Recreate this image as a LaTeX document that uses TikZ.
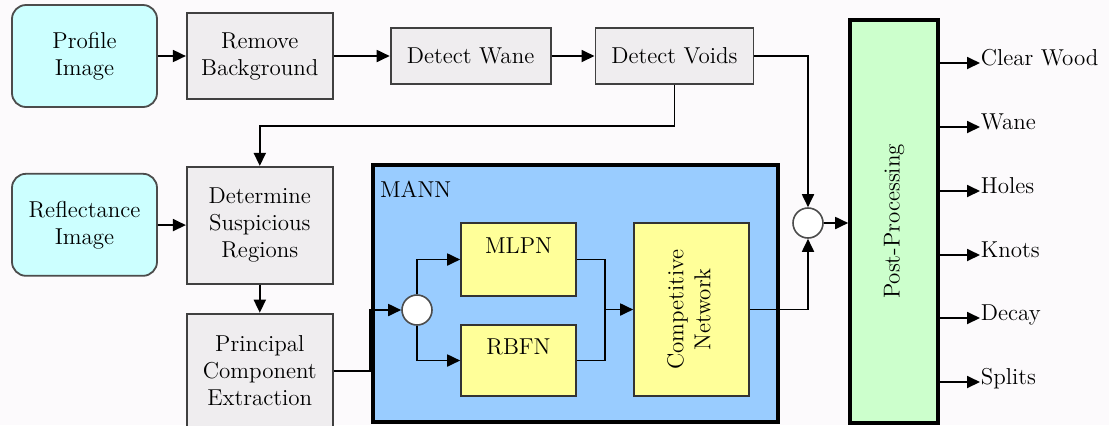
\documentclass[tikz,border=0pt]{standalone}
\usepackage{graphicx}
\usetikzlibrary{arrows.meta,positioning}
\definecolor{imgcyan}{HTML}{CCFFFF}
\definecolor{stepgray}{HTML}{EFEDEF}
\definecolor{mannblue}{HTML}{99CCFF}
\definecolor{netyellow}{HTML}{FFFF99}
\definecolor{postgreen}{HTML}{CCFFCC}
\definecolor{bgcol}{HTML}{FCFAFC}

\begin{document}
\begin{tikzpicture}[x=0.5pt,y=-0.5pt,>={Triangle[length=6.5pt,width=6pt]},line width=0.9pt,
 font=\fontsize{11.5}{13.5}\selectfont,
 src/.style={draw=black!70,line width=0.9pt,rounded corners=7pt,fill=imgcyan,align=center,minimum width=72.5pt,minimum height=51pt},
 blk/.style={draw=black!75,line width=0.9pt,fill=stepgray,align=center,minimum width=73pt},
 net/.style={draw=black!80,line width=0.8pt,fill=netyellow,align=center,minimum width=57.5pt},
 jn/.style={circle,draw=black!70,line width=0.8pt,fill=white,minimum size=15pt,inner sep=0pt},
 cls/.style={anchor=base west,inner sep=0pt}]
\fill[bgcol] (0,0) rectangle (1109,425);
\useasboundingbox (0,0) rectangle (1109,425);
% input images and preprocessing
\node[src] (prof) at (84.5,56) {Profile\\Image};
\node[blk,minimum height=43pt,right=14pt of prof] (rmbg) {Remove\\Background};
\node[blk,minimum width=80pt,minimum height=28pt,right=28pt of rmbg] (wane) {Detect Wane};
\node[blk,minimum width=79pt,minimum height=28pt,right=21.5pt of wane] (voids) {Detect Voids};
\node[src,below=32.5pt of prof] (refl) {Reflectance\\Image};
\node[blk,minimum height=58.5pt,below=33pt of rmbg] (dsr) {Determine\\Suspicious\\Regions};
\node[blk,minimum height=57pt,below=14pt of dsr] (pce) {Principal\\Component\\Extraction};
% MANN
\node[draw=black,line width=1.8pt,fill=mannblue,minimum width=202.5pt,minimum height=128.5pt] (mann) at (575.5,293.5) {};
\node[anchor=north west,inner sep=0pt] (mannlbl) at ([xshift=4pt,yshift=-8.5pt]mann.north west) {MANN};
\node[net,minimum height=36.5pt] (mlpn) at (518.5,259.5) {MLPN\\~};
\node[net,minimum height=35.5pt] (rbfn) at (518.5,360.5) {RBFN\\~};
\node[net,minimum height=86.5pt] (comp) at (691.5,309.5) {\rotatebox{90}{\begin{tabular}{@{}c@{}}Competitive\\Network\end{tabular}}};
\node[jn] (j1) at (417,310) {};
\node[jn] (j2) at (808,223) {};
\coordinate (mrg) at (605,309.5);
\node[draw=black,line width=1.8pt,fill=postgreen,minimum width=44pt,minimum height=201.5pt] (post) at (894,221.5) {\rotatebox{90}{Post-Processing}};
\draw[->] (prof) -- (rmbg);
\draw[->] (rmbg) -- (wane);
\draw[->] (wane) -- (voids);
\draw[->] (voids.east) -| (j2.north);
\draw[->] (voids.south) -- ++(0,41) -| (dsr.north);
\draw[->] (refl) -- (dsr);
\draw[->] (dsr) -- (pce);
\draw[->] (pce.east) -- ++(36,0) |- (j1.west);
\draw[->] (j1.north) |- (mlpn.west);
\draw[->] (j1.south) |- (rbfn.west);
\draw (mlpn.east) -| (mrg) |- (rbfn.east);
\draw[->] (mrg) -- (comp.west);
\draw[->] (comp.east) -| (j2.south);
\draw[->] (j2.east) -- (j2.east -| post.west);
% defect classes
\foreach \lbl/\yy [count=\k] in {Clear Wood/63,Wane/127,Holes/191,Knots/255,Decay/318,Splits/382}{
  \coordinate (t\k) at (980,\yy);
  \node[cls] (o\k) at ([yshift=-1pt]t\k) {\lbl};
  \draw[->] (post.east |- t\k) -- (t\k);
}
\end{tikzpicture}
\end{document}
